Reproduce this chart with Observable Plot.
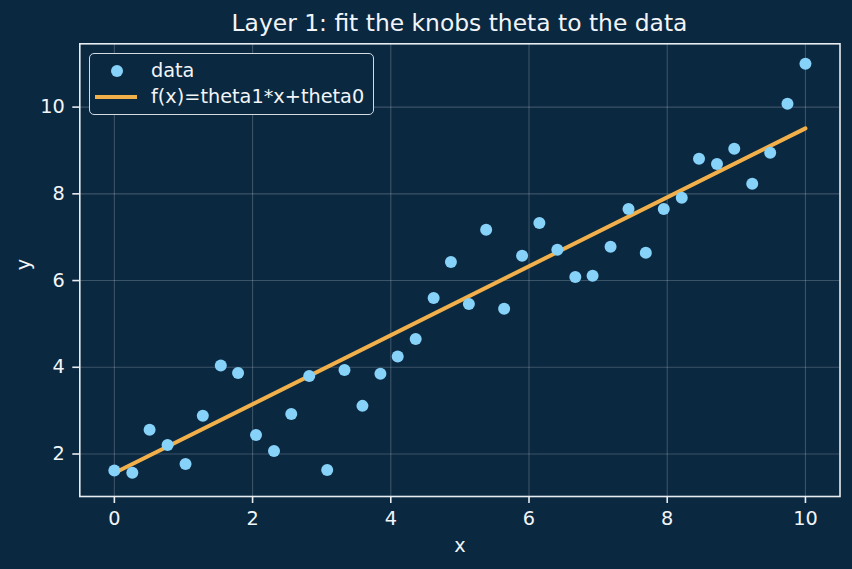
<!DOCTYPE html>
<html>
<head>
<meta charset="utf-8">
<script src="https://cdn.jsdelivr.net/npm/d3@7"></script>
<script src="https://cdn.jsdelivr.net/npm/@observablehq/plot@0.6"></script>
<style>
  html, body { margin: 0; padding: 0; background: #0b2841; }
  #wrap { position: relative; width: 852px; height: 569px; background: #0b2841; font-family: "DejaVu Sans", sans-serif; color: #f2f5f8; overflow: hidden; }
  #title { position: absolute; left: 79px; width: 761px; top: 6px; text-align: center; font-size: 23.4px; line-height: 34px; white-space: nowrap; }
  #legend { position: absolute; left: 89px; top: 53px; width: 283px; height: 60px; border: 1.6px solid #d3dae2; border-radius: 5px; background: #0b2841; }
  .lg-row { position: absolute; left: 0; height: 26px; width: 100%; }
  .lg-text { position: absolute; left: 61px; top: 0; font-size: 19.3px; line-height: 26px; white-space: nowrap; }
  .lg-dot { position: absolute; left: 20.5px; top: 7px; width: 12px; height: 12px; border-radius: 50%; background: #86d2f8; }
  .lg-line { position: absolute; left: 5px; top: 11px; width: 42px; height: 4px; background: #f2b04a; }
</style>
</head>
<body>
<div id="wrap">
  <div id="chart"></div>
  <div id="title">Layer 1: fit the knobs theta to the data</div>
  <div id="legend">
    <div class="lg-row" style="top:4px"><div class="lg-dot"></div><div class="lg-text">data</div></div>
    <div class="lg-row" style="top:30px"><div class="lg-line"></div><div class="lg-text">f(x)=theta1*x+theta0</div></div>
  </div>
</div>
<script>
// Scatter data
const dataX = [0.00, 0.26, 0.51, 0.77, 1.03, 1.28, 1.54, 1.79, 2.05, 2.31,
               2.56, 2.82, 3.08, 3.33, 3.59, 3.85, 4.10, 4.36, 4.62, 4.87,
               5.13, 5.38, 5.64, 5.90, 6.15, 6.41, 6.67, 6.92, 7.18, 7.44,
               7.69, 7.95, 8.21, 8.46, 8.72, 8.97, 9.23, 9.49, 9.74, 10.00];
const dataY = [1.62, 1.57, 2.56, 2.21, 1.77, 2.88, 4.04, 3.87, 2.44, 2.07,
               2.92, 3.80, 1.63, 3.94, 3.11, 3.85, 4.25, 4.65, 5.60, 6.43,
               5.46, 7.17, 5.35, 6.57, 7.33, 6.71, 6.08, 6.11, 6.78, 7.65,
               6.64, 7.65, 7.91, 8.81, 8.69, 9.04, 8.23, 8.95, 10.08, 11.00];
// Fitted line endpoints f(x)=theta1*x+theta0
const lineX = [0, 10];
const lineY = [1.56, 9.51];
// Tick labels
const xTicks = [0, 2, 4, 6, 8, 10];
const yTicks = [2, 4, 6, 8, 10];

const points = dataX.map((x, i) => ({x, y: dataY[i]}));
const fit = lineX.map((x, i) => ({x, y: lineY[i]}));

const fg = "#f2f5f8";
const plot = Plot.plot({
  width: 852,
  height: 569,
  marginTop: 43.3,
  marginBottom: 73,
  marginLeft: 79.3,
  marginRight: 12.5,
  style: {background: "#0b2841", color: fg, fontFamily: "DejaVu Sans, sans-serif", fontSize: "19.3px"},
  x: {domain: [-0.5, 10.5]},
  y: {domain: [1.02, 11.46]},
  marks: [
    Plot.gridX(xTicks, {stroke: "#ffffff", strokeOpacity: 0.2, strokeWidth: 1.1}),
    Plot.gridY(yTicks, {stroke: "#ffffff", strokeOpacity: 0.2, strokeWidth: 1.1}),
    Plot.line(fit, {x: "x", y: "y", stroke: "#f2b04a", strokeWidth: 4}),
    Plot.dot(points, {x: "x", y: "y", r: 6, fill: "#86d2f8", stroke: "none"}),
    Plot.frame({stroke: "#e8edf2", strokeWidth: 1.6}),
    Plot.axisX(xTicks, {label: null, tickSize: 7, tickPadding: 8, stroke: "#e8edf2", strokeWidth: 1.6, fontSize: 19.3}),
    Plot.axisY(yTicks, {label: null, tickSize: 7, tickPadding: 8, stroke: "#e8edf2", strokeWidth: 1.6, fontSize: 19.3}),
    Plot.text(["x"], {frameAnchor: "bottom", dy: 55.5, fill: fg, fontSize: 19.3}),
    Plot.text(["y"], {frameAnchor: "left", dx: -56, rotate: -90, fill: fg, fontSize: 19.3})
  ]
});
document.getElementById("chart").appendChild(plot);
</script>
</body>
</html>
